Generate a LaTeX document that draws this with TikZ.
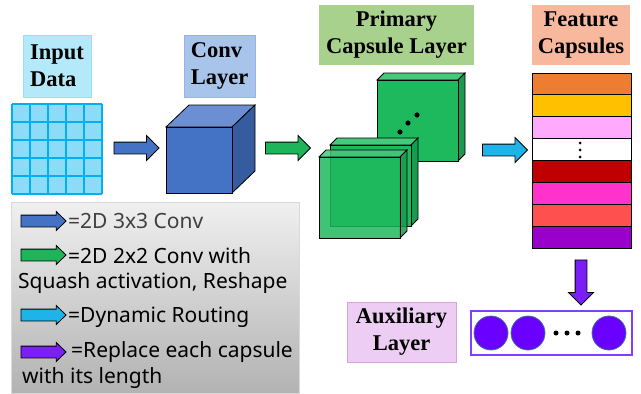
\documentclass[tikz,border=0pt]{standalone}
\usepackage{fontspec}
\setmainfont{Liberation Serif}
\newfontfamily\legendfont{Noto Sans}
\usetikzlibrary{shapes.arrows}

\definecolor{inputc}{HTML}{B3E9F9}
\definecolor{convc}{HTML}{A9C4EB}
\definecolor{primc}{HTML}{A9D18E}
\definecolor{featc}{HTML}{F8B89E}
\definecolor{auxc}{HTML}{EECDF5}
\definecolor{gridc}{HTML}{00B0F0}
\definecolor{cellc}{HTML}{8CDCF8}
\definecolor{cubef}{HTML}{4472C4}
\definecolor{cubet}{HTML}{6C8FD4}
\definecolor{cubes}{HTML}{345C9E}
\definecolor{capf}{HTML}{1DB95C}
\definecolor{capt}{HTML}{45C97B}
\definecolor{caps}{HTML}{1A9A4E}
\definecolor{arrblue}{HTML}{4472C4}
\definecolor{arrgreen}{HTML}{1DB45A}
\definecolor{arrcyan}{HTML}{1EB4EA}
\definecolor{arrpurple}{HTML}{7A1FF5}
\definecolor{circc}{HTML}{6A00FF}
\definecolor{circl}{HTML}{41719C}
\definecolor{outc}{HTML}{7F3FFF}

\tikzset{>=latex,
  title/.style={font=\bfseries\fontsize{22.5}{27}\selectfont,inner sep=0pt},
  blockarrow/.style={single arrow,draw=black,line width=0.8pt,inner sep=0pt,
    inner ysep=5.5pt,minimum width=0pt,minimum height=45pt,
    single arrow head extend=6.5pt,single arrow tip angle=90},
  legarrow/.style={single arrow,draw=black,line width=0.8pt,inner sep=0pt,
    inner ysep=5.5pt,minimum width=0pt,minimum height=45pt,
    single arrow head extend=3.5pt,single arrow tip angle=88},
  legtext/.style={font=\legendfont\fontsize{21}{25}\selectfont,anchor=west,inner sep=0pt},
  face/.style={draw=black,line width=0.8pt}
}

\begin{document}
\begin{tikzpicture}[x=1pt,y=-1pt]
    \useasboundingbox (0,0) rectangle (641,394);
    % titles
    \node[title,fill=inputc,draw=inputc!85!gridc,minimum width=68pt,minimum height=62pt,align=left] (tinput) at (57,66) {Input\\Data};
    \node[title,fill=convc,draw=convc!90!blue,minimum width=71pt,minimum height=62pt,align=left] (tconv) at (219.5,66) {Conv\\Layer};
    \node[title,fill=primc,minimum width=155pt,minimum height=60pt,align=center] (tprim) at (396.5,35) {Primary\\Capsule Layer};
    \node[title,fill=featc,minimum width=98pt,minimum height=60pt,align=center] (tfeat) at (581,35) {Feature\\Capsules};
    \node[title,fill=auxc,draw=auxc!80!violet,minimum width=109pt,minimum height=60pt,align=center] (taux) at (401.5,332) {Auxiliary\\Layer};
    % input grid
    \fill[cellc] (12,104) rectangle (102,194);
    \foreach \i in {0,...,5}{
        \draw[gridc,line width=2.2pt] (12+\i*18,104) -- (12+\i*18,194);
        \draw[gridc,line width=2.2pt] (12,104+\i*18) -- (102,104+\i*18);
    }
    % conv cube
    \draw[face,fill=cubet] (166,127) -- (189,105) -- (255,105) -- (232,127) -- cycle;
    \draw[face,fill=cubes] (232,127) -- (255,105) -- (255,171) -- (232,193) -- cycle;
    \draw[face,fill=cubef] (166,127) rectangle (232,193);
    % primary capsules
    \foreach \x/\y/\op in {377/80/1,330/145/1,319/157/0.85}{
        \draw[face,fill=capt,fill opacity=\op] (\x,\y) -- (\x+7,\y-7) -- (\x+88,\y-7) -- (\x+81,\y) -- cycle;
        \draw[face,fill=caps,fill opacity=\op] (\x+81,\y) -- (\x+88,\y-7) -- (\x+88,\y+74) -- (\x+81,\y+81) -- cycle;
        \draw[face,fill=capf,fill opacity=\op] (\x,\y) rectangle (\x+81,\y+81);
    }
    \foreach \x/\y in {400/132,408/123,417/115}{
        \fill (\x,\y) circle (2.6pt);
    }
    % feature capsules
    \foreach \c [count=\i from 0] in {ED7D31,FFC000,FFAAFF,FFFFFF,C00000,FF33CC,FF5050,9900CC}{
        \definecolor{rowc}{HTML}{\c}
        \draw[line width=0.8pt,fill=rowc] (532,{73+\i*21.875}) rectangle ++(99,21.875);
    }
    \foreach \y in {143,150,157}{
        \fill (580,\y) circle (1.5pt);
    }
    % flow arrows
    \node[blockarrow,fill=arrblue] (a1) at (133.5,148) {};
    \node[blockarrow,fill=arrgreen] (a2) at (285,148) {};
    \node[blockarrow,fill=arrcyan] (a3) at (502,150) {};
    \node[blockarrow,fill=arrpurple,rotate=-90] (a4) at (581,279.5) {};
    % auxiliary layer
    \draw[outc,line width=2pt] (471,311) rectangle (632,355);
    \foreach \n/\x in {c1/491,c2/528,c3/609}{
        \node[circle,fill=circc,draw=circl,line width=0.8pt,minimum size=34pt,inner sep=0pt] (\n) at (\x,333) {};
    }
    \foreach \x in {556,567,578}{
        \fill (\x,333) circle (2.5pt);
    }
    % legend
    \shade[top color=black!6,bottom color=black!30] (11,202) rectangle (299,393);
    \draw[black!15] (11,202) rectangle (299,393);
    \node[legarrow,fill=arrblue] (l1) at (40.5,221) {};
    \node[legarrow,fill=arrgreen] (l2) at (40.5,255) {};
    \node[legarrow,fill=arrcyan] (l3) at (40.5,315) {};
    \node[legarrow,fill=arrpurple] (l4) at (40.5,352) {};
    \node[legtext,text=black!75] at (68,221) {=2D 3x3 Conv};
    \node[legtext] at (68,256) {=2D 2x2 Conv with};
    \node[legtext] at (18,283) {Squash activation, Reshape};
    \node[legtext] at (68,317) {=Dynamic Routing};
    \node[legtext] at (71,352) {=Replace each capsule};
    \node[legtext] at (22,378) {with its length};
\end{tikzpicture}
\end{document}
